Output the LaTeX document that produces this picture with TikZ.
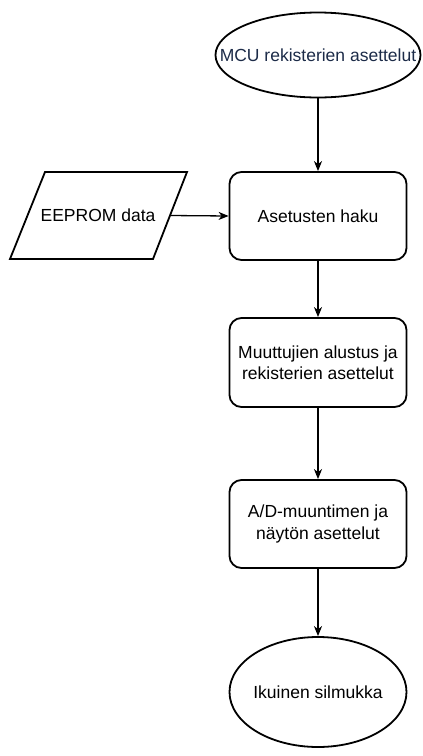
\documentclass[tikz,border=0pt]{standalone}
\usepackage{fontspec}
\setmainfont{Liberation Sans}
\usetikzlibrary{shapes.geometric,arrows.meta}
\definecolor{navy}{RGB}{28,43,72}
\begin{document}
\begin{tikzpicture}[x=1pt,y=-1pt,
  every node/.style={font=\fontsize{17.5}{21.5}\selectfont},
  shapeline/.style={draw=black,line width=1.8pt},
  procbox/.style={shapeline,rounded corners=12pt,minimum width=177pt,minimum height=88pt,inner sep=0pt},
  ovalshape/.style={shapeline,ellipse,inner sep=0pt},
  lbl/.style={align=center,inner sep=0pt},
  conn/.style={draw=black,line width=1.3pt,-{Stealth[length=10pt,width=8pt,inset=3pt]}}]
\useasboundingbox (0,0) rectangle (423,756);
% start ellipse
\node[ovalshape,minimum width=205pt,minimum height=85pt] (start) at (318,55) {};
\node[lbl,text=navy] (starttxt) at (318,55) {MCU rekisterien asettelut};
% process boxes
\node[procbox] (haku) at (318,216) {};
\node[lbl] (hakutxt) at (318,216) {Asetusten haku};
\node[procbox,minimum height=89pt] (alustus) at (318,362.5) {};
\node[lbl] (alustustxt) at (318,362.5) {Muuttujien alustus ja\\rekisterien asettelut};
\node[procbox] (ad) at (318,524) {};
\node[lbl] (adtxt) at (318,524) {A/D-muuntimen ja\\näytön asettelut};
% end ellipse
\node[ovalshape,minimum width=177pt,minimum height=110pt] (loop) at (318,692) {};
\node[lbl] (looptxt) at (318,692) {Ikuinen silmukka};
% parallelogram
\coordinate (p1) at (45,172);
\coordinate (p2) at (187,172);
\coordinate (p3) at (153,259);
\coordinate (p4) at (10,259);
\draw[shapeline,line join=miter] (p1) -- (p2) -- (p3) -- (p4) -- cycle;
\coordinate (pr) at (170,215.5);
\node[lbl] (eeprom) at (98,215.5) {EEPROM data};
% connectors
\draw[conn] (start.south) -- (haku.north);
\draw[conn] (pr) -- (haku.west);
\draw[conn] (haku.south) -- (alustus.north);
\draw[conn] (alustus.south) -- (ad.north);
\draw[conn] (ad.south) -- (loop.north);
\end{tikzpicture}
\end{document}
